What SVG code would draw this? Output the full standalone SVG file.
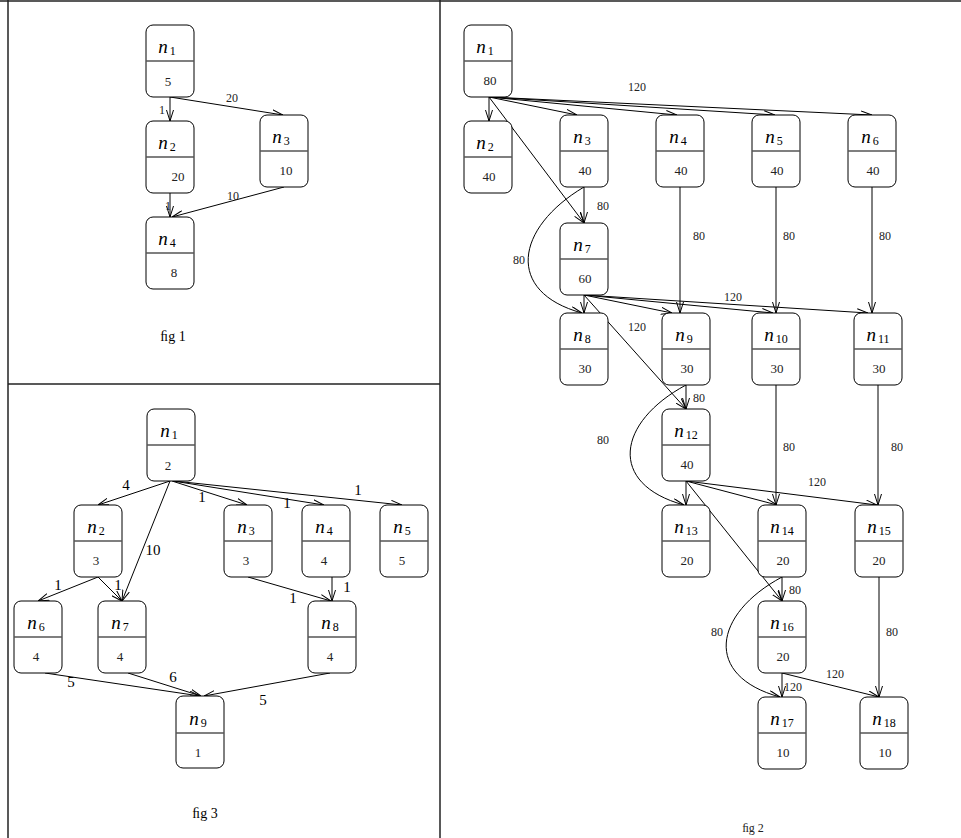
<svg xmlns="http://www.w3.org/2000/svg" width="961" height="838" viewBox="0 0 961 838">
<style>
.box{fill:#fff;stroke:#000;stroke-width:1}
.div{stroke:#555;stroke-width:1.5}
.lbl{font-family:"Liberation Serif",serif;font-size:19px;text-anchor:middle;fill:#000}
.lbl .n{font-style:italic}
.lbl .s{font-size:12px}
.val{font-family:"Liberation Serif",serif;font-size:13px;text-anchor:middle;fill:#222}
.el{font-family:"Liberation Serif",serif;font-size:12px;text-anchor:middle;fill:#222}
.el3{font-family:"Liberation Serif",serif;font-size:15px;text-anchor:middle;fill:#000}
.cap{font-family:"Liberation Serif",serif;font-size:14px;text-anchor:middle;fill:#000}
.e{fill:none;stroke:#000;stroke-width:1;marker-end:url(#ah)}
.frame{stroke:#222;stroke-width:1.5;fill:none}
</style>
<defs>
<marker id="ah" viewBox="0 0 11 8" refX="11" refY="4" markerWidth="11" markerHeight="8" markerUnits="userSpaceOnUse" orient="auto">
<path d="M0,0.5 L11,4 L0,7.5" fill="none" stroke="#000" stroke-width="1"/>
</marker>
</defs>
<g id="frame">
<line class="frame" x1="0" y1="1" x2="961" y2="1"/>
<line class="frame" x1="8" y1="0" x2="8" y2="838"/>
<line class="frame" x1="440" y1="0" x2="440" y2="838"/>
<line class="frame" x1="8" y1="384" x2="440" y2="384"/>
</g>
<g id="connectors">
<!-- fig 1 -->
<line class="e" x1="170" y1="97" x2="170" y2="121"/>
<line class="e" x1="170" y1="97" x2="283" y2="115"/>
<line class="e" x1="170" y1="193" x2="170" y2="217"/>
<line class="e" x1="284" y1="187" x2="172" y2="217"/>
<!-- fig 3 -->
<line class="e" x1="170" y1="481" x2="98" y2="505"/>
<line class="e" x1="170" y1="481" x2="122" y2="601"/>
<line class="e" x1="172" y1="481" x2="247" y2="505"/>
<line class="e" x1="173" y1="481" x2="324" y2="505"/>
<line class="e" x1="174" y1="481" x2="402" y2="505"/>
<line class="e" x1="98" y1="577" x2="38" y2="601"/>
<line class="e" x1="98" y1="577" x2="122" y2="601"/>
<line class="e" x1="248" y1="577" x2="331" y2="601"/>
<line class="e" x1="332" y1="577" x2="332" y2="601"/>
<line class="e" x1="45" y1="673" x2="200" y2="696"/>
<line class="e" x1="128" y1="673" x2="201" y2="696"/>
<line class="e" x1="330" y1="673" x2="204" y2="696"/>
<!-- fig 2 -->
<line class="e" x1="489" y1="97" x2="489" y2="121"/>
<line class="e" x1="489" y1="97" x2="577" y2="115"/>
<line class="e" x1="489" y1="97" x2="677" y2="115"/>
<line class="e" x1="489" y1="97" x2="775" y2="115"/>
<line class="e" x1="489" y1="97" x2="872" y2="115"/>
<line class="e" x1="489" y1="97" x2="584" y2="223"/>
<line class="e" x1="584" y1="187" x2="584" y2="223"/>
<path class="e" d="M584,187 C515,228 505,292 582,313"/>
<line class="e" x1="680" y1="187" x2="680" y2="313"/>
<line class="e" x1="776" y1="187" x2="776" y2="313"/>
<line class="e" x1="872" y1="187" x2="872" y2="313"/>
<line class="e" x1="584" y1="295" x2="584" y2="313"/>
<line class="e" x1="584" y1="295" x2="672" y2="313"/>
<line class="e" x1="584" y1="295" x2="773" y2="313"/>
<line class="e" x1="584" y1="295" x2="868" y2="313"/>
<line class="e" x1="584" y1="295" x2="686" y2="409"/>
<line class="e" x1="686" y1="385" x2="686" y2="409"/>
<path class="e" d="M686,385 C617,422 607,484 684,505"/>
<line class="e" x1="776" y1="385" x2="776" y2="505"/>
<line class="e" x1="878" y1="385" x2="878" y2="505"/>
<line class="e" x1="686" y1="481" x2="686" y2="505"/>
<line class="e" x1="686" y1="481" x2="777" y2="505"/>
<line class="e" x1="686" y1="481" x2="877" y2="505"/>
<line class="e" x1="686" y1="481" x2="782" y2="601"/>
<line class="e" x1="782" y1="577" x2="782" y2="601"/>
<path class="e" d="M782,577 C713,614 703,676 780,697"/>
<line class="e" x1="879" y1="577" x2="879" y2="697"/>
<line class="e" x1="782" y1="673" x2="782" y2="697"/>
<line class="e" x1="782" y1="673" x2="879" y2="697"/>
</g>
<g id="edge-labels">
<text class="el" x="162" y="114">1</text>
<text class="el" x="232" y="102">20</text>
<text class="el" x="168" y="210">1</text>
<text class="el" x="233" y="200">10</text>
<text class="el3" x="126" y="490">4</text>
<text class="el3" x="153" y="555">10</text>
<text class="el3" x="202" y="502">1</text>
<text class="el3" x="287" y="508">1</text>
<text class="el3" x="358" y="495">1</text>
<text class="el3" x="58" y="590">1</text>
<text class="el3" x="118" y="590">1</text>
<text class="el3" x="293" y="603">1</text>
<text class="el3" x="347" y="592">1</text>
<text class="el3" x="71" y="687">5</text>
<text class="el3" x="173" y="682">6</text>
<text class="el3" x="263" y="705">5</text>
<text class="el" x="637" y="91">120</text>
<text class="el" x="603" y="210">80</text>
<text class="el" x="519" y="264">80</text>
<text class="el" x="699" y="240">80</text>
<text class="el" x="789" y="240">80</text>
<text class="el" x="885" y="240">80</text>
<text class="el" x="733" y="301">120</text>
<text class="el" x="637" y="331">120</text>
<text class="el" x="699" y="402">80</text>
<text class="el" x="603" y="444">80</text>
<text class="el" x="789" y="451">80</text>
<text class="el" x="897" y="451">80</text>
<text class="el" x="817" y="486">120</text>
<text class="el" x="795" y="594">80</text>
<text class="el" x="717" y="636">80</text>
<text class="el" x="892" y="636">80</text>
<text class="el" x="835" y="678">120</text>
<text class="el" x="793" y="691">120</text>
</g>
<!-- fig 1 nodes -->
<g id="f1-n1"><rect class="box" x="146" y="25" width="48" height="72" rx="7"/><line class="div" x1="146" y1="61" x2="194" y2="61"/><text class="lbl" x="167" y="53"><tspan class="n">n</tspan><tspan class="s" dx="2" dy="2">1</tspan></text><text class="val" x="168" y="86">5</text></g>
<g id="f1-n2"><rect class="box" x="146" y="121" width="48" height="72" rx="7"/><line class="div" x1="146" y1="157" x2="194" y2="157"/><text class="lbl" x="167" y="149"><tspan class="n">n</tspan><tspan class="s" dx="2" dy="2">2</tspan></text><text class="val" x="178" y="181">20</text></g>
<g id="f1-n3"><rect class="box" x="260" y="115" width="48" height="72" rx="7"/><line class="div" x1="260" y1="151" x2="308" y2="151"/><text class="lbl" x="281" y="143"><tspan class="n">n</tspan><tspan class="s" dx="2" dy="2">3</tspan></text><text class="val" x="286" y="175">10</text></g>
<g id="f1-n4"><rect class="box" x="146" y="217" width="48" height="72" rx="7"/><line class="div" x1="146" y1="253" x2="194" y2="253"/><text class="lbl" x="167" y="245"><tspan class="n">n</tspan><tspan class="s" dx="2" dy="2">4</tspan></text><text class="val" x="174" y="277">8</text></g>
<text class="cap" x="173" y="341">ﬁg 1</text>
<!-- fig 3 nodes -->
<g id="f3-n1"><rect class="box" x="147" y="409" width="48" height="72" rx="7"/><line class="div" x1="147" y1="445" x2="195" y2="445"/><text class="lbl" x="169" y="437"><tspan class="n">n</tspan><tspan class="s" dx="2" dy="2">1</tspan></text><text class="val" x="168" y="470">2</text></g>
<g id="f3-n2"><rect class="box" x="74" y="505" width="48" height="72" rx="7"/><line class="div" x1="74" y1="541" x2="122" y2="541"/><text class="lbl" x="96" y="533"><tspan class="n">n</tspan><tspan class="s" dx="2" dy="2">2</tspan></text><text class="val" x="96" y="565">3</text></g>
<g id="f3-n3"><rect class="box" x="224" y="505" width="48" height="72" rx="7"/><line class="div" x1="224" y1="541" x2="272" y2="541"/><text class="lbl" x="246" y="533"><tspan class="n">n</tspan><tspan class="s" dx="2" dy="2">3</tspan></text><text class="val" x="246" y="565">3</text></g>
<g id="f3-n4"><rect class="box" x="302" y="505" width="48" height="72" rx="7"/><line class="div" x1="302" y1="541" x2="350" y2="541"/><text class="lbl" x="324" y="533"><tspan class="n">n</tspan><tspan class="s" dx="2" dy="2">4</tspan></text><text class="val" x="324" y="565">4</text></g>
<g id="f3-n5"><rect class="box" x="380" y="505" width="48" height="72" rx="7"/><line class="div" x1="380" y1="541" x2="428" y2="541"/><text class="lbl" x="402" y="533"><tspan class="n">n</tspan><tspan class="s" dx="2" dy="2">5</tspan></text><text class="val" x="402" y="565">5</text></g>
<g id="f3-n6"><rect class="box" x="14" y="601" width="48" height="72" rx="7"/><line class="div" x1="14" y1="637" x2="62" y2="637"/><text class="lbl" x="36" y="629"><tspan class="n">n</tspan><tspan class="s" dx="2" dy="2">6</tspan></text><text class="val" x="36" y="661">4</text></g>
<g id="f3-n7"><rect class="box" x="98" y="601" width="48" height="72" rx="7"/><line class="div" x1="98" y1="637" x2="146" y2="637"/><text class="lbl" x="120" y="629"><tspan class="n">n</tspan><tspan class="s" dx="2" dy="2">7</tspan></text><text class="val" x="120" y="661">4</text></g>
<g id="f3-n8"><rect class="box" x="308" y="601" width="48" height="72" rx="7"/><line class="div" x1="308" y1="637" x2="356" y2="637"/><text class="lbl" x="330" y="629"><tspan class="n">n</tspan><tspan class="s" dx="2" dy="2">8</tspan></text><text class="val" x="330" y="661">4</text></g>
<g id="f3-n9"><rect class="box" x="176" y="696" width="48" height="72" rx="7"/><line class="div" x1="176" y1="733" x2="224" y2="733"/><text class="lbl" x="198" y="725"><tspan class="n">n</tspan><tspan class="s" dx="2" dy="2">9</tspan></text><text class="val" x="198" y="757">1</text></g>
<text class="cap" x="205" y="818">ﬁg 3</text>
<!-- fig 2 nodes -->
<g id="f2-n1"><rect class="box" x="464" y="25" width="48" height="72" rx="7"/><line class="div" x1="464" y1="61" x2="512" y2="61"/><text class="lbl" x="485" y="53"><tspan class="n">n</tspan><tspan class="s" dx="2" dy="2">1</tspan></text><text class="val" x="490" y="85">80</text></g>
<g id="f2-n2"><rect class="box" x="464" y="121" width="48" height="72" rx="7"/><line class="div" x1="464" y1="157" x2="512" y2="157"/><text class="lbl" x="485" y="149"><tspan class="n">n</tspan><tspan class="s" dx="2" dy="2">2</tspan></text><text class="val" x="489" y="181">40</text></g>
<g id="f2-n3"><rect class="box" x="560" y="115" width="48" height="72" rx="7"/><line class="div" x1="560" y1="151" x2="608" y2="151"/><text class="lbl" x="582" y="143"><tspan class="n">n</tspan><tspan class="s" dx="2" dy="2">3</tspan></text><text class="val" x="585" y="175">40</text></g>
<g id="f2-n4"><rect class="box" x="656" y="115" width="48" height="72" rx="7"/><line class="div" x1="656" y1="151" x2="704" y2="151"/><text class="lbl" x="678" y="143"><tspan class="n">n</tspan><tspan class="s" dx="2" dy="2">4</tspan></text><text class="val" x="681" y="175">40</text></g>
<g id="f2-n5"><rect class="box" x="752" y="115" width="48" height="72" rx="7"/><line class="div" x1="752" y1="151" x2="800" y2="151"/><text class="lbl" x="774" y="143"><tspan class="n">n</tspan><tspan class="s" dx="2" dy="2">5</tspan></text><text class="val" x="777" y="175">40</text></g>
<g id="f2-n6"><rect class="box" x="848" y="115" width="48" height="72" rx="7"/><line class="div" x1="848" y1="151" x2="896" y2="151"/><text class="lbl" x="870" y="143"><tspan class="n">n</tspan><tspan class="s" dx="2" dy="2">6</tspan></text><text class="val" x="873" y="175">40</text></g>
<g id="f2-n7"><rect class="box" x="560" y="223" width="48" height="72" rx="7"/><line class="div" x1="560" y1="259" x2="608" y2="259"/><text class="lbl" x="582" y="251"><tspan class="n">n</tspan><tspan class="s" dx="2" dy="2">7</tspan></text><text class="val" x="585" y="283">60</text></g>
<g id="f2-n8"><rect class="box" x="560" y="313" width="48" height="72" rx="7"/><line class="div" x1="560" y1="349" x2="608" y2="349"/><text class="lbl" x="582" y="341"><tspan class="n">n</tspan><tspan class="s" dx="2" dy="2">8</tspan></text><text class="val" x="585" y="373">30</text></g>
<g id="f2-n9"><rect class="box" x="662" y="313" width="48" height="72" rx="7"/><line class="div" x1="662" y1="349" x2="710" y2="349"/><text class="lbl" x="684" y="341"><tspan class="n">n</tspan><tspan class="s" dx="2" dy="2">9</tspan></text><text class="val" x="687" y="373">30</text></g>
<g id="f2-n10"><rect class="box" x="752" y="313" width="48" height="72" rx="7"/><line class="div" x1="752" y1="349" x2="800" y2="349"/><text class="lbl" x="776" y="341"><tspan class="n">n</tspan><tspan class="s" dx="2" dy="2">10</tspan></text><text class="val" x="777" y="373">30</text></g>
<g id="f2-n11"><rect class="box" x="854" y="313" width="48" height="72" rx="7"/><line class="div" x1="854" y1="349" x2="902" y2="349"/><text class="lbl" x="878" y="341"><tspan class="n">n</tspan><tspan class="s" dx="2" dy="2">11</tspan></text><text class="val" x="879" y="373">30</text></g>
<g id="f2-n12"><rect class="box" x="662" y="409" width="48" height="72" rx="7"/><line class="div" x1="662" y1="445" x2="710" y2="445"/><text class="lbl" x="686" y="437"><tspan class="n">n</tspan><tspan class="s" dx="2" dy="2">12</tspan></text><text class="val" x="687" y="469">40</text></g>
<g id="f2-n13"><rect class="box" x="662" y="505" width="48" height="72" rx="7"/><line class="div" x1="662" y1="541" x2="710" y2="541"/><text class="lbl" x="686" y="533"><tspan class="n">n</tspan><tspan class="s" dx="2" dy="2">13</tspan></text><text class="val" x="687" y="565">20</text></g>
<g id="f2-n14"><rect class="box" x="758" y="505" width="48" height="72" rx="7"/><line class="div" x1="758" y1="541" x2="806" y2="541"/><text class="lbl" x="782" y="533"><tspan class="n">n</tspan><tspan class="s" dx="2" dy="2">14</tspan></text><text class="val" x="783" y="565">20</text></g>
<g id="f2-n15"><rect class="box" x="855" y="505" width="48" height="72" rx="7"/><line class="div" x1="855" y1="541" x2="903" y2="541"/><text class="lbl" x="879" y="533"><tspan class="n">n</tspan><tspan class="s" dx="2" dy="2">15</tspan></text><text class="val" x="879" y="565">20</text></g>
<g id="f2-n16"><rect class="box" x="758" y="601" width="48" height="72" rx="7"/><line class="div" x1="758" y1="637" x2="806" y2="637"/><text class="lbl" x="782" y="629"><tspan class="n">n</tspan><tspan class="s" dx="2" dy="2">16</tspan></text><text class="val" x="783" y="661">20</text></g>
<g id="f2-n17"><rect class="box" x="758" y="697" width="48" height="72" rx="7"/><line class="div" x1="758" y1="733" x2="806" y2="733"/><text class="lbl" x="782" y="725"><tspan class="n">n</tspan><tspan class="s" dx="2" dy="2">17</tspan></text><text class="val" x="783" y="757">10</text></g>
<g id="f2-n18"><rect class="box" x="860" y="697" width="48" height="72" rx="7"/><line class="div" x1="860" y1="733" x2="908" y2="733"/><text class="lbl" x="884" y="725"><tspan class="n">n</tspan><tspan class="s" dx="2" dy="2">18</tspan></text><text class="val" x="885" y="757">10</text></g>
<text class="el" x="753" y="832">ﬁg 2</text>
</svg>
